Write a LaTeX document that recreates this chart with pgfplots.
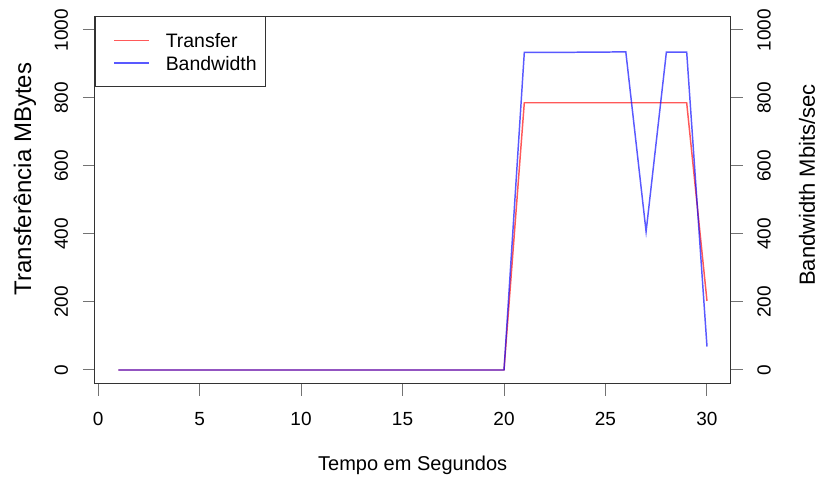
\documentclass[border=0pt]{standalone}
\usepackage{pgfplots}
\pgfplotsset{compat=1.18}
\usepackage{fontspec}
\setmainfont{Liberation Sans}

\pgfplotstableread{
x transfer bandwidth
1 0 0
2 0 0
3 0 0
4 0 0
5 0 0
6 0 0
7 0 0
8 0 0
9 0 0
10 0 0
11 0 0
12 0 0
13 0 0
14 0 0
15 0 0
16 0 0
17 0 0
18 0 0
19 0 0
20 0 0
21 786 934
22 786 934
23 786 934
24 786 935
25 786 935
26 786 936
27 786 407
28 786 935
29 786 935
30 203 69
}\datatable

\definecolor{tred}{RGB}{255,0,0}
\definecolor{tblue}{RGB}{0,0,255}

\pgfplotsset{
  common/.style={
    scale only axis, width=476.8pt, height=275.4pt,
    xmin=-0.16, xmax=31.16, ymin=-40, ymax=1040,
    ytick={0,200,...,1000}, xtick={0,5,...,30},
    tick align=outside, major tick length=9pt,
    axis line style={black!80, line width=0.75pt},
    every tick/.style={black!55, line width=0.75pt},
    tick label style={font=\fontsize{14.25pt}{16pt}\selectfont},
    /pgf/number format/assume math mode=true,
    /pgf/number format/1000 sep={},
    scaled ticks=false,
  }
}

\begin{document}
\begin{tikzpicture}
\useasboundingbox (-71.1pt,-70.05pt) rectangle (543.15pt,287.7pt);
\begin{axis}[common,
  tick pos=left,
  yticklabel style={rotate=90, anchor=south, yshift=7.5pt},
  xticklabel style={anchor=north, yshift=-8.75pt},
  xlabel={Tempo em Segundos},
  xlabel style={font=\fontsize{15pt}{18pt}\selectfont, at={(axis description cs:0.5,0)}, anchor=north, yshift=-50.5pt},
  ylabel={Transferência MBytes},
  ylabel style={font=\fontsize{18pt}{21pt}\selectfont, at={(axis description cs:0,0.557)}, anchor=center, yshift=52.5pt},
  legend style={at={(axis description cs:0,1)}, anchor=north west, draw=black!80, line width=0.75pt,
    inner xsep=6.75pt, inner ysep=12.55pt, row sep=6pt, column sep=12pt,
    font=\fontsize{14.6pt}{16pt}\selectfont,
    nodes={inner sep=0pt, text height=10.7pt, text depth=0pt}},
  legend cell align=left,
  legend image code/.code={\path (0pt,0pt); \draw[#1] (6.75pt,0pt) -- (33pt,0pt);},
]
\addplot[tred, opacity=0.65, line width=1.1pt] table[x=x, y=transfer] {\datatable};
\addlegendentry{Transfer}
\addlegendimage{tblue, opacity=0.65, line width=1.1pt}
\addlegendentry{Bandwidth}
\end{axis}
\begin{axis}[common,
  axis y line*=right,
  hide x axis,
  yticklabel style={rotate=90, anchor=north, yshift=-7.5pt},
  ylabel={Bandwidth Mbits/sec},
  ylabel style={font=\fontsize{16.5pt}{19pt}\selectfont, at={(axis description cs:1,0.541)}, anchor=center, yshift=-57.4pt},
]
\addplot[tblue, opacity=0.65, line width=1.1pt] table[x=x, y=bandwidth] {\datatable};
\end{axis}
\end{tikzpicture}
\end{document}
